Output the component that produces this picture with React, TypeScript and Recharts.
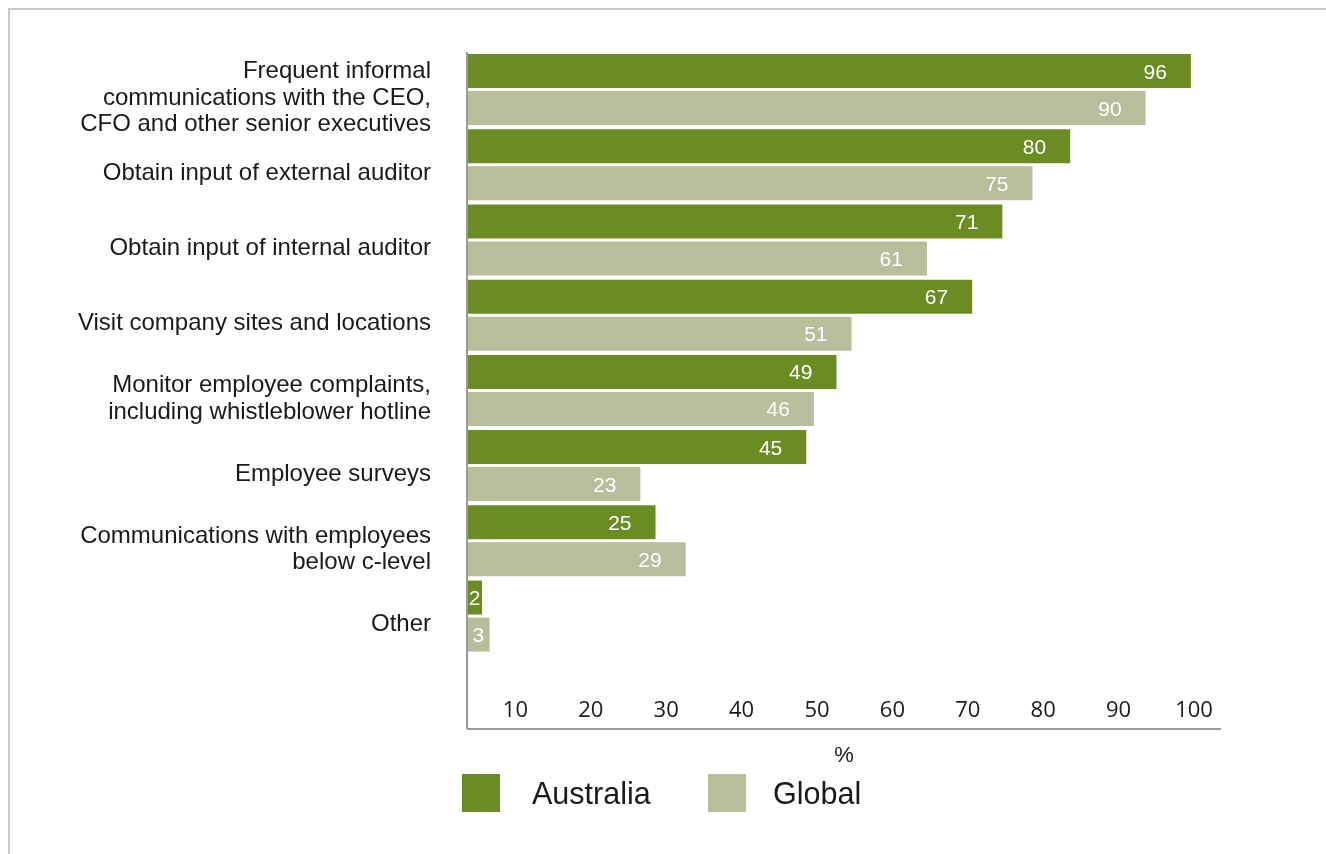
import React from 'react';
import { BarChart, Bar, XAxis, YAxis, LabelList } from 'recharts';

// Colours
const AUS_COLOR = '#6b8b23';
const GLOBAL_COLOR = '#b8bd9c';
const AXIS_COLOR = '#9a9a9a';
const TEXT_COLOR = '#1a1a1a';
const LABEL_FONT = '"Liberation Sans", Arial, sans-serif';
const TICK_FONT = '"Open Sans", sans-serif';

// Data
const categories = [
  'Frequent informal\ncommunications with the CEO,\nCFO and other senior executives',
  'Obtain input of external auditor',
  'Obtain input of internal auditor',
  'Visit company sites and locations',
  'Monitor employee complaints,\nincluding whistleblower hotline',
  'Employee surveys',
  'Communications with employees\nbelow c-level',
  'Other',
];
const australia = [96, 80, 71, 67, 49, 45, 25, 2];
const global = [90, 75, 61, 51, 46, 23, 29, 3];
const xTicks = [10, 20, 30, 40, 50, 60, 70, 80, 90, 100];
const seriesNames = ['Australia', 'Global'];

// one empty row at the bottom leaves room for the tick labels above the axis line
const data = [
  ...categories.map((name, i) => ({ name, australia: australia[i], global: global[i] })),
  { name: '', australia: null, global: null },
];

const CategoryTick = ({ x, y, payload }: any) => {
  const lines = String(payload.value || '').split('\n');
  if (!lines[0]) return null;
  const lineH = 26.7;
  const start = -((lines.length - 1) / 2) * lineH + 6;
  return (
    <text
      x={x}
      y={y + start}
      textAnchor="end"
      dominantBaseline="central"
      fontFamily={LABEL_FONT}
      fontSize={24}
      fill={TEXT_COLOR}
    >
      {lines.map((line, i) => (
        <tspan key={i} x={x} dy={i === 0 ? 0 : lineH}>
          {line}
        </tspan>
      ))}
    </text>
  );
};

const ValueTick = ({ x, y, payload }: any) => (
  <text
    x={x - 27}
    y={y - 12}
    textAnchor="middle"
    fontFamily={TICK_FONT}
    fontSize={22}
    fill={TEXT_COLOR}
  >
    {payload.value}
  </text>
);

const renderValue = (props: any) => {
  const { x, y, width, height, value } = props;
  if (value == null) return null;
  // small bars get the label centred, longer ones right-aligned near the end
  const small = width < 60;
  return (
    <text
      x={small ? x + width / 2 : x + width - 24}
      y={y + height / 2}
      textAnchor={small ? 'middle' : 'end'}
      dominantBaseline="central"
      fontFamily={LABEL_FONT}
      fontSize={21}
      fill="#ffffff"
    >
      {value}
    </text>
  );
};

const LegendItem = ({ left, gap, color, label }: { left: number; gap: number; color: string; label: string }) => (
  <div
    style={{
      position: 'absolute',
      left,
      top: 766,
      height: 38,
      display: 'flex',
      alignItems: 'center',
      fontFamily: LABEL_FONT,
      fontSize: 30.5,
      color: TEXT_COLOR,
      whiteSpace: 'nowrap',
    }}
  >
    <div style={{ width: 38, height: 38, background: color, marginRight: gap }} />
    <span>{label}</span>
  </div>
);

export default function App() {
  return (
    <div style={{ position: 'relative', width: 1310, height: 838 }}>
      {/* frame: only top and left edges show in the reference */}
      <div
        style={{
          position: 'fixed',
          left: 8,
          top: 8,
          width: 1400,
          height: 900,
          boxSizing: 'border-box',
          borderTop: '2px solid #c8c8c8',
          borderLeft: '2px solid #c8c8c8',
          pointerEvents: 'none',
        }}
      />
      <div style={{ position: 'absolute', left: 0, top: 0, width: 1310, height: 838 }}>
        <BarChart
          width={1310}
          height={838}
          data={data}
          layout="vertical"
          margin={{ top: 44, right: 97, left: 39, bottom: 87 }}
          barCategoryGap={2}
          barGap={3}
        >
          <XAxis
            type="number"
            domain={[0, 100]}
            ticks={xTicks}
            interval={0}
            height={30}
            tickLine={false}
            tickSize={0}
            tickMargin={0}
            axisLine={{ stroke: AXIS_COLOR, strokeWidth: 2 }}
            tick={<ValueTick />}
            label={{
              value: '%',
              position: 'bottom',
              offset: -13,
              fontFamily: LABEL_FONT,
              fontSize: 22,
              fill: TEXT_COLOR,
            }}
          />
          <YAxis
            type="category"
            dataKey="name"
            width={420}
            tickLine={false}
            tickSize={0}
            tickMargin={36}
            interval={0}
            axisLine={{ stroke: AXIS_COLOR, strokeWidth: 2 }}
            tick={<CategoryTick />}
          />
          <Bar dataKey="australia" name={seriesNames[0]} fill={AUS_COLOR} isAnimationActive={false}>
            <LabelList dataKey="australia" content={renderValue} />
          </Bar>
          <Bar dataKey="global" name={seriesNames[1]} fill={GLOBAL_COLOR} isAnimationActive={false}>
            <LabelList dataKey="global" content={renderValue} />
          </Bar>
        </BarChart>
        <LegendItem left={454} gap={32} color={AUS_COLOR} label={seriesNames[0]} />
        <LegendItem left={700} gap={27} color={GLOBAL_COLOR} label={seriesNames[1]} />
      </div>
    </div>
  );
}
